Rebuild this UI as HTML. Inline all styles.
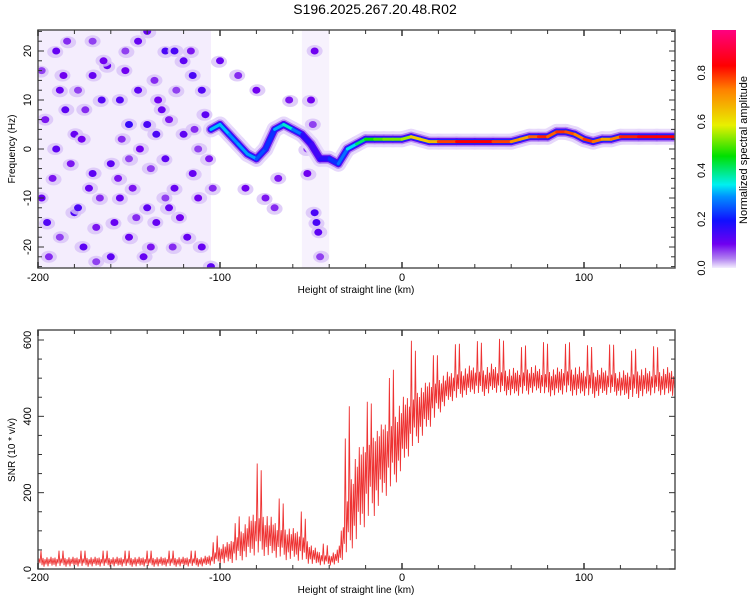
<!DOCTYPE html>
<html><head><meta charset="utf-8"><style>
html,body{margin:0;padding:0;background:#fff;}
svg{display:block;font-family:"Liberation Sans",sans-serif;}
</style></head><body>
<svg id="chart" width="750" height="600" viewBox="0 0 750 600" xmlns="http://www.w3.org/2000/svg">
<defs>
<linearGradient id="cmap" x1="0" y1="1" x2="0" y2="0">
<stop offset="0" stop-color="#f4eefe"/><stop offset="0.04" stop-color="#b080f0"/><stop offset="0.1" stop-color="#7000f0"/>
<stop offset="0.2" stop-color="#1010ff"/><stop offset="0.3" stop-color="#0090ff"/><stop offset="0.35" stop-color="#00f0f0"/>
<stop offset="0.47" stop-color="#00e000"/><stop offset="0.6" stop-color="#e8f000"/><stop offset="0.75" stop-color="#ff8000"/>
<stop offset="0.85" stop-color="#ff0000"/><stop offset="1" stop-color="#ff0080"/>
</linearGradient>
<clipPath id="clipTop"><rect x="38" y="30" width="637" height="238"/></clipPath>
<clipPath id="clipBot"><rect x="38" y="330" width="637" height="239"/></clipPath>
</defs>
<text x="375" y="14" font-size="14" text-anchor="middle" fill="#000">S196.2025.267.20.48.R02</text>
<g id="topPanel" clip-path="url(#clipTop)"></g>
<g id="botPanel" clip-path="url(#clipBot)"></g>
<g id="axes"></g>
<rect x="712" y="30" width="24" height="238" fill="url(#cmap)"/>
<text transform="translate(747,150) rotate(-90)" font-size="11" text-anchor="middle">Normalized spectral amplitude</text>
<text x="356" y="293" font-size="10" text-anchor="middle">Height of straight line (km)</text>
<text x="356" y="593" font-size="10" text-anchor="middle">Height of straight line (km)</text>
<text transform="translate(15,149) rotate(-90)" font-size="10" text-anchor="middle">Frequency (Hz)</text>
<text transform="translate(15,450) rotate(-90)" font-size="10" text-anchor="middle">SNR (10 * v/v)</text>
</svg>
<script>
const xTicks=[-200,-100,0,100];
const fTicks=[-20,-10,0,10,20];
const snrTicks=[0,200,400,600];
const cbTicks=[0.0,0.2,0.4,0.6,0.8];
const ridgeX=[-105,-100,-95,-90,-85,-80,-75,-70,-65,-60,-55,-50,-45,-40,-35,-30,-25,-20,-15,-10,-5,0,5,10,15,20,30,40,50,60,65,70,75,80,85,90,95,100,105,110,115,120,130,140,150];
const ridgeF=[4,5,3,1,-1,-2,0,4,5,4,3,1,-2,-2,-3,0,1,2,2,2,2,2,2.5,2,1.5,1.5,1.5,1.5,1.5,1.5,2,2.5,2.5,2.5,3.5,3.5,3,2,1.5,2,2,2.5,2.5,2.5,2.5];
const ridgeA=[0.3,0.35,0.3,0.3,0.32,0.3,0.2,0.25,0.38,0.36,0.2,0.15,0.15,0.2,0.25,0.3,0.38,0.45,0.5,0.52,0.55,0.52,0.6,0.7,0.6,0.75,0.85,0.85,0.85,0.75,0.7,0.7,0.85,0.8,0.75,0.88,0.7,0.8,0.82,0.7,0.7,0.8,0.85,0.85,0.85];
const blobX=[-180,-178,-170,-160,-150,-140,-135,-130,-125,-120,-115,-110,-190,-195,-185,-165,-155,-145,-175,-140,-160,-130,-120,-150,-110,-125,-170,-190,-145,-115,-135,-155,-180,-100,-105,-140,-48,-47,-46,-50,-48,-52,-198,-188,-172,-158,-132,-118,-108,-162,-142,-128,
 -196,-192,-186,-182,-176,-168,-164,-156,-152,-148,-144,-138,-134,-128,-122,-116,-112,-106,-194,-184,-174,-166,-154,-146,-136,-126,-114,-104,-188,-178,-168,-152,-138,-124,-112,-198,-170,-150,-130,-86,-80,-75,-68,-62,-90,-70,-45,-52,-49];
const blobF=[-13,-12,-5,-22,5,5,3,20,20,18,15,12,0,-15,8,10,10,12,-20,-12,-3,-2,3,-18,-20,-8,15,20,22,-5,-15,-10,3,18,-24,24,-13,-15,-17,10,20,-5,-10,12,-8,-15,8,-18,7,17,-22,-12,
 6,-6,15,-3,2,-16,18,-6,16,-8,0,-20,10,6,-14,20,-10,-2,-22,22,8,-10,2,-14,14,-20,4,-8,-18,12,-23,20,-4,12,0,16,22,-2,-10,-8,12,-10,-6,10,15,-12,-22,0,5];
const blobA=[0.14,0.14,0.12,0.12,0.16,0.14,0.14,0.14,0.14,0.12,0.14,0.13,0.12,0.13,0.12,0.13,0.13,0.12,0.12,0.12,0.12,0.12,0.12,0.11,0.11,0.11,0.11,0.11,0.11,0.11,0.11,0.11,0.11,0.11,0.12,0.11,0.14,0.14,0.12,0.1,0.1,0.1,0.11,0.11,0.11,0.11,0.11,0.11,0.12,0.11,0.11,0.11,
 0.09,0.09,0.1,0.09,0.1,0.09,0.1,0.09,0.1,0.09,0.1,0.09,0.1,0.09,0.1,0.09,0.1,0.09,0.08,0.08,0.08,0.08,0.08,0.08,0.08,0.08,0.08,0.08,0.07,0.07,0.07,0.07,0.07,0.07,0.07,0.07,0.07,0.07,0.07,0.1,0.1,0.09,0.09,0.09,0.08,0.08,0.07,0.07,0.07];
const noiseStart=[-200,-55];
const noiseEnd=[-105,-40];
const snrX=[-200,-195,-190,-185,-180,-175,-170,-165,-160,-155,-150,-145,-140,-135,-130,-125,-120,-115,-110,-105,-100,-95,-90,-85,-80,-75,-70,-65,-60,-55,-50,-45,-40,-35,-30,-25,-20,-15,-10,-5,0,5,10,15,20,25,30,35,40,45,50,55,60,65,70,75,80,85,90,95,100,105,110,115,120,125,130,135,140,145,150];
const snrLo=[5,5,5,5,5,5,5,5,5,5,5,5,5,5,5,5,5,5,5,8,12,10,15,25,30,30,25,20,20,15,10,8,8,10,30,60,100,130,170,200,250,300,330,360,400,430,440,450,455,450,460,455,450,450,455,460,450,450,455,450,450,445,450,455,450,440,445,450,455,450,450];
const snrMid=[25,25,25,25,25,25,25,25,25,25,25,25,25,25,25,25,25,25,25,30,50,60,80,100,120,110,100,90,85,80,50,35,30,40,150,250,300,330,350,360,400,420,450,470,480,490,500,505,510,505,510,505,500,505,510,505,500,505,510,505,500,500,505,500,495,500,505,500,500,505,500];
const snrHi=[48,48,48,48,48,48,48,48,48,48,48,48,48,48,48,48,48,48,48,60,100,100,130,200,280,240,200,170,160,150,100,70,60,80,420,450,440,430,470,520,560,600,540,560,560,580,590,590,600,590,610,600,590,580,590,600,590,580,590,600,590,580,580,590,580,570,580,590,580,590,580];

const NS='http://www.w3.org/2000/svg';
const X0=38,X1=675,XMIN=-200,XMAX=150;
const sx=v=>X0+(v-XMIN)/(XMAX-XMIN)*(X1-X0);
const sf=v=>149-v*4.9;
const ss=v=>569-v*(229/600);
const scb=v=>268-v*244;
function mk(tag,attrs,parent){const e=document.createElementNS(NS,tag);for(const k in attrs)e.setAttribute(k,attrs[k]);parent.appendChild(e);return e;}
const stops=[[0,[244,238,254]],[0.04,[176,128,240]],[0.1,[112,0,240]],[0.2,[16,16,255]],[0.3,[0,144,255]],[0.35,[0,240,240]],[0.47,[0,224,0]],[0.6,[232,240,0]],[0.75,[255,128,0]],[0.85,[255,0,0]],[1,[255,0,128]]];
function cmap(v){v=Math.max(0,Math.min(1,v));for(let i=1;i<stops.length;i++){if(v<=stops[i][0]){const a=stops[i-1],b=stops[i];const t=(v-a[0])/(b[0]-a[0]);const c=a[1].map((x,j)=>Math.round(x+(b[1][j]-x)*t));return `rgb(${c})`;}}return 'rgb(255,0,128)';}

const topG=document.getElementById('topPanel');
for(let i=0;i<noiseStart.length;i++){
  const r=mk('rect',{x:sx(noiseStart[i]),y:30,width:sx(noiseEnd[i])-sx(noiseStart[i]),height:238,fill:'#efe6fc',opacity:i==0?0.7:0.5},topG);
  
  
}
for(let i=0;i<blobX.length;i++){
  const h=mk('ellipse',{cx:sx(blobX[i])+(i%3-1),cy:sf(blobF[i])+(i%2),rx:8,ry:6,fill:'#d8c2f8',opacity:0.8},topG);
  
  
  const c=mk('ellipse',{cx:sx(blobX[i]),cy:sf(blobF[i]),rx:4,ry:3.5,fill:cmap(blobA[i])},topG);
  
  
}
const layers=[[16,()=> '#e6d8fb',0.9],[10,()=> '#b488f2',1],[7,a=>cmap(Math.min(a,0.12)),1],[5,a=>cmap(Math.min(a,0.22)),1],[3,a=>cmap(a),1]];
for(const [w,col,op] of layers){
  for(let i=0;i<ridgeX.length-1;i++){
    const a=(ridgeA[i]+ridgeA[i+1])/2;
    const l=mk('line',{x1:sx(ridgeX[i]),y1:sf(ridgeF[i]),x2:sx(ridgeX[i+1]),y2:sf(ridgeF[i+1]),stroke:col(a),'stroke-width':w,'stroke-linecap':'round',opacity:op},topG);
    
    
  }
}

const botG=document.getElementById('botPanel');
function interp(arr,x){for(let i=0;i<snrX.length-1;i++){if(x<=snrX[i+1]){const t=(x-snrX[i])/(snrX[i+1]-snrX[i]);return arr[i]+(arr[i+1]-arr[i])*t;}}return arr[arr.length-1];}
const fr=[0.3,1,0.5,0.1,0.7,0.2,0.85,0.4,0.6,0.15,0.95];
let pts=[];let k=0;
for(let x=XMIN;x<=XMAX;x+=0.55,k++){
  const lo=interp(snrLo,x),mid=interp(snrMid,x),hi=interp(snrHi,x);
  let v;
  if(k%2==0) v=lo+(mid-lo)*fr[(k>>1)%11]*0.5;
  else {const f=fr[((k-1)>>1)%11]; v=f>0.9?hi:mid+(hi-mid)*f*0.35;}
  pts.push(sx(x).toFixed(1)+','+ss(v).toFixed(1));
}
const pl=mk('polyline',{points:pts.join(' '),fill:'none',stroke:'#ee3333','stroke-width':0.9},botG);



const ax=document.getElementById('axes');
function frame(y0,y1,name){const r=mk('rect',{x:X0,y:y0,width:X1-X0,height:y1-y0,fill:'none',stroke:'#555','stroke-width':1.5},ax);}
frame(30,268,'top-plot-frame');frame(330,569,'bottom-plot-frame');
function tick(x1,y1,x2,y2,w){mk('line',{x1,y1,x2,y2,stroke:'#333','stroke-width':w||1},ax);}
for(let v=-200;v<=150;v+=20){const x=sx(v);const big=v%100==0;
  for(const [a,b] of [[30,268],[330,569]]){tick(x,b,x,b-(big?6:4),big?1.5:1);tick(x,a,x,a+(big?6:4),big?1.5:1);}}
for(const v of xTicks){for(const y of [281,581]){const t=mk('text',{x:sx(v),y:y,'font-size':11,'text-anchor':'middle'},ax);t.textContent=v;}}
for(let v=-24;v<=24;v+=2){const y=sf(v);const big=v%10==0;tick(X0,y,X0+(big?6:4),y);tick(X1,y,X1-(big?6:4),y);}
for(const v of fTicks){const t=mk('text',{transform:`translate(31,${sf(v)}) rotate(-90)`,'font-size':11,'text-anchor':'middle'},ax);t.textContent=v;}
for(let v=0;v<=600;v+=50){const y=ss(v);const big=v%200==0;tick(X0,y,X0+(big?6:4),y);tick(X1,y,X1-(big?6:4),y);}
for(const v of snrTicks){const t=mk('text',{transform:`translate(31,${ss(v)}) rotate(-90)`,'font-size':11,'text-anchor':'middle'},ax);t.textContent=v;}
for(const v of cbTicks){const t=mk('text',{transform:`translate(705,${scb(v)}) rotate(-90)`,'font-size':11,'text-anchor':'middle'},ax);t.textContent=v.toFixed(1);}
</script>
</body></html>
